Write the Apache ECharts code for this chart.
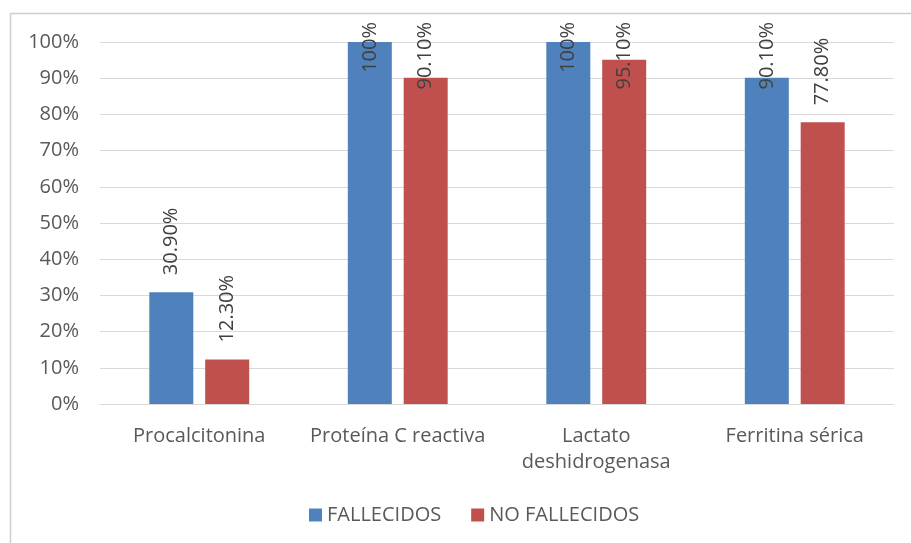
<!DOCTYPE html>
<html>
<head>
<meta charset="utf-8">
<script src="https://cdn.jsdelivr.net/npm/echarts@6/dist/echarts.min.js"></script>
<style>
  html, body { margin: 0; padding: 0; background: #ffffff; }
  #chart { width: 911px; height: 543px; }
</style>
</head>
<body>
<div id="chart"></div>
<script>
// Marcadores de laboratorio: porcentaje por grupo
var categories = ['Procalcitonina', 'Proteína C reactiva', 'Lactato\ndeshidrogenasa', 'Ferritina sérica'];
var fallecidos = [30.9, 100, 100, 90.1];
var noFallecidos = [12.3, 90.1, 95.1, 77.8];
var fallecidosLabels = ['30.90%', '100%', '100%', '90.10%'];
var noFallecidosLabels = ['12.30%', '90.10%', '95.10%', '77.80%'];
var yTicks = [0, 10, 20, 30, 40, 50, 60, 70, 80, 90, 100];

var FONT = '"Open Sans", sans-serif';
var FONT_SIZE = 20;
var TEXT = '#595959';
var LABEL_GAP = 17;   // space between a bar top and its label
var LABEL_TOP = 22;   // labels never rise above this line

var measureCtx = document.createElement('canvas').getContext('2d');
measureCtx.font = FONT_SIZE + 'px "Open Sans"';
function textWidth(s) { return measureCtx.measureText(s).width; }

function labelStyle() {
  return {
    show: true,
    position: 'top',
    rotate: 90,
    align: 'left',
    verticalAlign: 'middle',
    distance: LABEL_GAP,
    fontFamily: FONT,
    fontSize: FONT_SIZE,
    color: '#404040'
  };
}

var chart = echarts.init(document.getElementById('chart'), null, { renderer: 'canvas' });

function buildSeriesData(values, texts) {
  return values.map(function (v, i) {
    var label = { formatter: texts[i] };
    var barTop = chart.convertToPixel({ yAxisIndex: 0 }, v);
    var w = textWidth(texts[i]);
    var labelTop = barTop - LABEL_GAP - w;
    if (labelTop < LABEL_TOP) {
      // push the label down so it stays inside the chart
      label.distance = barTop - (LABEL_TOP + w);
    }
    return { value: v, label: label };
  });
}

var frameStyle = { stroke: '#cccccc', lineWidth: 1.5, fill: 'none' };

var option = {
  backgroundColor: '#ffffff',
  animation: false,
  graphic: [
    { type: 'line', silent: true, z: 100, shape: { x1: 10.5, y1: 13.5, x2: 911, y2: 13.5 }, style: frameStyle },
    { type: 'line', silent: true, z: 100, shape: { x1: 10.5, y1: 13.5, x2: 10.5, y2: 543 }, style: frameStyle }
  ],
  grid: { left: 100, right: 17, top: 42, bottom: 139, containLabel: false },
  legend: {
    bottom: 13,
    left: 304,
    itemWidth: 13,
    itemHeight: 13,
    itemGap: 30,
    icon: 'rect',
    textStyle: { fontFamily: FONT, fontSize: FONT_SIZE, color: TEXT },
    data: ['FALLECIDOS', 'NO FALLECIDOS']
  },
  xAxis: {
    type: 'category',
    data: categories,
    axisLine: { show: true, lineStyle: { color: '#d9d9d9', width: 1 } },
    axisTick: { show: false },
    axisLabel: {
      fontFamily: FONT, fontSize: FONT_SIZE, color: TEXT,
      lineHeight: 26, margin: 19, interval: 0
    }
  },
  yAxis: {
    type: 'value',
    min: yTicks[0],
    max: yTicks[yTicks.length - 1],
    interval: 10,
    axisLine: { show: false },
    axisTick: { show: false },
    splitLine: { lineStyle: { color: '#d9d9d9', width: 1 } },
    axisLabel: {
      fontFamily: FONT, fontSize: FONT_SIZE, color: TEXT, margin: 21,
      formatter: function (v) { return v + '%'; }
    }
  },
  series: [
    {
      name: 'FALLECIDOS',
      type: 'bar',
      data: fallecidos,
      barWidth: 44,
      barGap: '27%',
      itemStyle: { color: '#4F81BD' },
      label: labelStyle()
    },
    {
      name: 'NO FALLECIDOS',
      type: 'bar',
      data: noFallecidos,
      barWidth: 44,
      itemStyle: { color: '#C0504D' },
      label: labelStyle()
    }
  ]
};

chart.setOption(option);
chart.setOption({
  series: [
    { data: buildSeriesData(fallecidos, fallecidosLabels) },
    { data: buildSeriesData(noFallecidos, noFallecidosLabels) }
  ]
});
</script>
</body>
</html>
